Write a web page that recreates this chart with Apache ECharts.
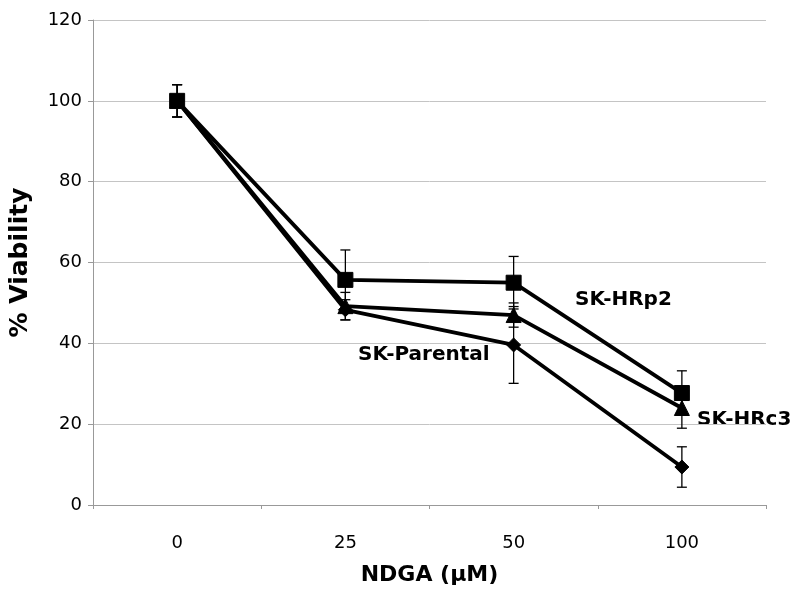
<!DOCTYPE html>
<html>
<head>
<meta charset="utf-8">
<script src="https://cdn.jsdelivr.net/npm/echarts@6/dist/echarts.min.js"></script>
<style>html,body{margin:0;padding:0;background:#fff}#c{width:800px;height:591px}</style>
</head>
<body>
<div id="c"></div>
<script>
var categories = ['0', '25', '50', '100'];
var yTicks = [0, 20, 40, 60, 80, 100, 120];
var hrp2 = [100, 55.7, 55, 27.7];
var hrp2Err = [4, 7.4, 6.5, 5.5];
var hrc3 = [100, 49.2, 47, 24];
var hrc3Err = [4, 3.4, 3, 5];
var parental = [100, 48.3, 39.6, 9.4];
var parentalErr = [4, 2.5, 9.5, 5];
var seriesNames = ['SK-HRp2', 'SK-HRc3', 'SK-Parental'];

function errData(vals, errs) {
  return vals.map(function (v, i) { return [i, v - errs[i], v + errs[i]]; });
}
function errSeries(vals, errs) {
  return {
    type: 'custom',
    z: 5,
    data: errData(vals, errs),
    renderItem: function (params, api) {
      var lo = api.coord([api.value(0), api.value(1)]);
      var hi = api.coord([api.value(0), api.value(2)]);
      var w = 5;
      var st = { stroke: '#000', lineWidth: 1.3 };
      return {
        type: 'group',
        children: [
          { type: 'line', shape: { x1: lo[0], y1: lo[1], x2: hi[0], y2: hi[1] }, style: st },
          { type: 'line', shape: { x1: lo[0] - w, y1: lo[1], x2: lo[0] + w, y2: lo[1] }, style: st },
          { type: 'line', shape: { x1: hi[0] - w, y1: hi[1], x2: hi[0] + w, y2: hi[1] }, style: st }
        ]
      };
    }
  };
}
function lineSeries(name, vals, symbol, size) {
  return {
    name: name,
    type: 'line',
    data: vals,
    symbol: symbol,
    symbolSize: size,
    showAllSymbol: true,
    z: 3,
    lineStyle: { color: '#000', width: 3.8 },
    itemStyle: { color: '#000', borderColor: '#000' }
  };
}

var chart = echarts.init(document.getElementById('c'));
var fontR = '"DejaVu Sans", sans-serif';
chart.setOption({
  animation: false,
  backgroundColor: '#fff',
  grid: { left: 92, right: 34, top: 20, bottom: 86 },
  xAxis: {
    type: 'category',
    data: categories,
    boundaryGap: true,
    name: 'NDGA (μM)',
    nameLocation: 'middle',
    nameGap: 59,
    nameTextStyle: { fontFamily: fontR, fontWeight: 'bold', fontSize: 22, color: '#000' },
    axisLine: { lineStyle: { color: '#999', width: 1 } },
    axisTick: { show: true, interval: 0, length: 4, lineStyle: { color: '#999' } },
    axisLabel: { margin: 29, fontFamily: fontR, fontSize: 18, color: '#000' }
  },
  yAxis: {
    type: 'value',
    min: yTicks[0],
    max: yTicks[yTicks.length - 1],
    interval: 20,
    name: '% Viability',
    nameLocation: 'middle',
    nameGap: 60,
    nameRotate: 90,
    nameTextStyle: { fontFamily: fontR, fontWeight: 'bold', fontSize: 25, color: '#000' },
    axisLine: { show: true, lineStyle: { color: '#999', width: 1 } },
    axisTick: { show: true, length: 5, lineStyle: { color: '#999' } },
    axisLabel: { margin: 11, fontFamily: fontR, fontSize: 18, color: '#000' },
    splitLine: { show: true, lineStyle: { color: '#c4c4c4', width: 1 } }
  },
  graphic: [
    { type: 'text', left: 575, top: 290, style: { text: seriesNames[0], font: 'bold 20px "DejaVu Sans"', fill: '#000' } },
    { type: 'text', left: 697, top: 410, style: { text: seriesNames[1], font: 'bold 20px "DejaVu Sans"', fill: '#000' } },
    { type: 'text', left: 358, top: 345, style: { text: seriesNames[2], font: 'bold 20px "DejaVu Sans"', fill: '#000' } }
  ],
  series: [
    lineSeries(seriesNames[2], parental, 'diamond', 14),
    lineSeries(seriesNames[1], hrc3, 'triangle', 15),
    lineSeries(seriesNames[0], hrp2, 'rect', 15),
    errSeries(parental, parentalErr),
    errSeries(hrc3, hrc3Err),
    errSeries(hrp2, hrp2Err)
  ]
});
</script>
</body>
</html>
